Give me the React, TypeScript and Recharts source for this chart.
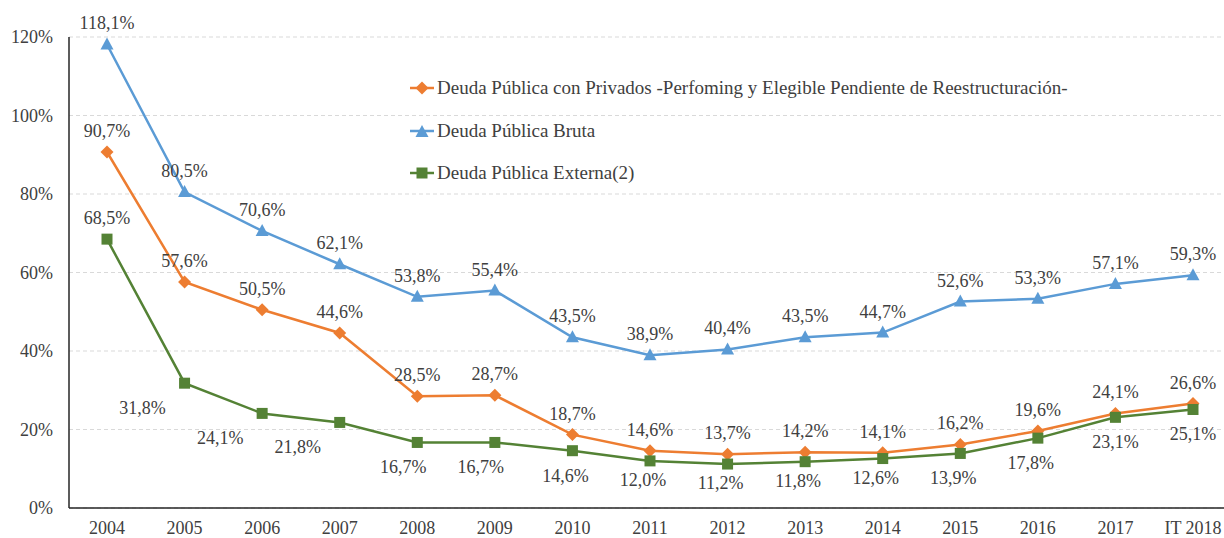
import { CartesianGrid, LabelList, Legend, Line, LineChart, XAxis, YAxis } from 'recharts';

const years = ['2004', '2005', '2006', '2007', '2008', '2009', '2010', '2011', '2012', '2013', '2014', '2015', '2016', '2017', 'IT 2018'];
const privados = [90.7, 57.6, 50.5, 44.6, 28.5, 28.7, 18.7, 14.6, 13.7, 14.2, 14.1, 16.2, 19.6, 24.1, 26.6];
const bruta = [118.1, 80.5, 70.6, 62.1, 53.8, 55.4, 43.5, 38.9, 40.4, 43.5, 44.7, 52.6, 53.3, 57.1, 59.3];
const externa = [68.5, 31.8, 24.1, 21.8, 16.7, 16.7, 14.6, 12.0, 11.2, 11.8, 12.6, 13.9, 17.8, 23.1, 25.1];
const yTicks = [0, 20, 40, 60, 80, 100, 120];

const NAME_PRIV = 'Deuda Pública con Privados -Perfoming y Elegible Pendiente de Reestructuración-';
const NAME_BRUTA = 'Deuda Pública Bruta';
const NAME_EXT = 'Deuda Pública Externa(2)';

const ORANGE = '#ED7D31';
const BLUE = '#5B9BD5';
const GREEN = '#548235';
const TEXT = '#404040';
const FONT = '"Liberation Serif", "Times New Roman", serif';

const data = years.map((year, i) => ({
  year,
  privados: privados[i],
  bruta: bruta[i],
  externa: externa[i],
}));

const fmt = (v: number) => `${v.toFixed(1).replace('.', ',')}%`;

function Diamond({ cx, cy, fill }: any) {
  if (cx == null || cy == null) return null;
  const r = 6.5;
  return <polygon points={`${cx},${cy - r} ${cx + r},${cy} ${cx},${cy + r} ${cx - r},${cy}`} fill={fill} />;
}

function Triangle({ cx, cy, fill }: any) {
  if (cx == null || cy == null) return null;
  return <polygon points={`${cx},${cy - 7} ${cx + 6.5},${cy + 5} ${cx - 6.5},${cy + 5}`} fill={fill} />;
}

function Square({ cx, cy, fill }: any) {
  if (cx == null || cy == null) return null;
  return <rect x={cx - 5.5} y={cy - 5.5} width={11} height={11} fill={fill} />;
}

function labelAbove(props: any) {
  const { x, y, value } = props;
  return (
    <text x={x} y={y - 15} textAnchor="middle" fill={TEXT} fontSize={18} fontFamily={FONT}>
      {fmt(value)}
    </text>
  );
}

function labelExterna(props: any) {
  const { x, y, value, index } = props;
  if (index === 0) return labelAbove(props);
  // steep early segment: the labels sit down and to the left of the marker
  const dx = index <= 3 ? -42 : index <= 5 ? -14 : index >= 13 ? 0 : -7;
  // near the floor of the chart the labels are pulled up closer to the line
  const dy = index >= 7 && index <= 10 ? 25 : 31;
  return (
    <text x={x + dx} y={y + dy} textAnchor="middle" fill={TEXT} fontSize={18} fontFamily={FONT}>
      {fmt(value)}
    </text>
  );
}

const legendItems = [
  { name: NAME_PRIV, color: ORANGE, shape: 'diamond' },
  { name: NAME_BRUTA, color: BLUE, shape: 'triangle' },
  { name: NAME_EXT, color: GREEN, shape: 'square' },
];

function LegendBox() {
  return (
    <div style={{ fontFamily: FONT, fontSize: 19, color: TEXT }}>
      {legendItems.map((item) => (
        <div key={item.name} style={{ display: 'flex', alignItems: 'center', height: 42.5 }}>
          <svg width={24} height={14} style={{ marginRight: 3 }}>
            <line x1={0} y1={7} x2={24} y2={7} stroke={item.color} strokeWidth={2.5} />
            {item.shape === 'diamond' && <Diamond cx={12} cy={7} fill={item.color} />}
            {item.shape === 'triangle' && <Triangle cx={12} cy={8} fill={item.color} />}
            {item.shape === 'square' && <Square cx={12} cy={7} fill={item.color} />}
          </svg>
          <span style={{ whiteSpace: 'nowrap' }}>{item.name}</span>
        </div>
      ))}
    </div>
  );
}

export default function App() {
  return (
    <div style={{ width: 1224, height: 538, background: '#fff' }}>
      <style>{'body{margin:0}'}</style>
      <LineChart width={1224} height={538} data={data} margin={{ top: 37, right: 0, left: 0, bottom: 0 }}>
        <CartesianGrid horizontal vertical={false} stroke="#d9d9d9" strokeDasharray="4 3" />
        <XAxis
          dataKey="year"
          padding={{ left: 38, right: 31 }}
          height={30}
          tickSize={0}
          tickMargin={13}
          axisLine={{ stroke: '#262626', strokeWidth: 1.5 }}
          tick={{ fill: TEXT, fontSize: 18, fontFamily: FONT }}
          interval={0}
        />
        <YAxis
          domain={[0, 120]}
          ticks={yTicks}
          width={69}
          tickSize={0}
          tickMargin={16}
          tickFormatter={(v) => `${v}%`}
          axisLine={{ stroke: '#262626', strokeWidth: 1.5 }}
          tick={{ fill: TEXT, fontSize: 18, fontFamily: FONT }}
        />
        <Legend
          layout="vertical"
          align="center"
          verticalAlign="middle"
          wrapperStyle={{ left: 410, top: 67, width: 'auto' }}
          content={() => <LegendBox />}
        />
        <Line
          dataKey="privados"
          name={NAME_PRIV}
          stroke={ORANGE}
          strokeWidth={2.5}
          dot={(p: any) => <Diamond key={`d${p.index}`} cx={p.cx} cy={p.cy} fill={ORANGE} />}
          activeDot={false}
          isAnimationActive={false}
        >
          <LabelList dataKey="privados" content={labelAbove} />
        </Line>
        <Line
          dataKey="bruta"
          name={NAME_BRUTA}
          stroke={BLUE}
          strokeWidth={2.5}
          dot={(p: any) => <Triangle key={`t${p.index}`} cx={p.cx} cy={p.cy} fill={BLUE} />}
          activeDot={false}
          isAnimationActive={false}
        >
          <LabelList dataKey="bruta" content={labelAbove} />
        </Line>
        <Line
          dataKey="externa"
          name={NAME_EXT}
          stroke={GREEN}
          strokeWidth={2.5}
          dot={(p: any) => <Square key={`s${p.index}`} cx={p.cx} cy={p.cy} fill={GREEN} />}
          activeDot={false}
          isAnimationActive={false}
        >
          <LabelList dataKey="externa" content={labelExterna} />
        </Line>
      </LineChart>
    </div>
  );
}
